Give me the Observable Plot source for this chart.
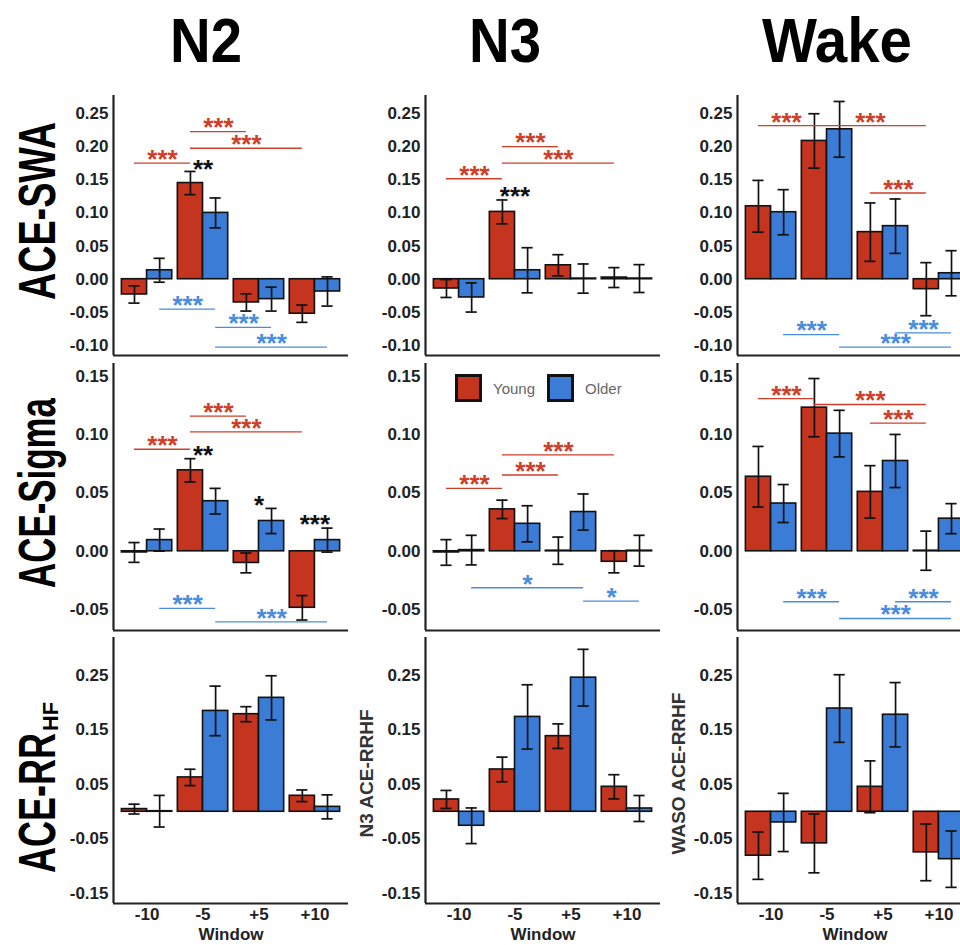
<!DOCTYPE html>
<html><head><meta charset="utf-8">
<script src="https://cdn.jsdelivr.net/npm/d3@7"></script>
<script src="https://cdn.jsdelivr.net/npm/@observablehq/plot@0.6"></script>
<style>
html,body{margin:0;padding:0;background:#fff;}
#wrap{position:relative;width:960px;height:945px;overflow:hidden;font-family:"Liberation Sans",Arial,sans-serif;background:#fff;}
.panel{position:absolute;}
#overlay{position:absolute;left:0;top:0;pointer-events:none;}
.legend{position:absolute;left:455px;top:374px;display:flex;align-items:center;font-family:"Liberation Sans",Arial,sans-serif;font-size:15px;color:#666;}
.legend .sw{width:27px;height:28px;box-sizing:border-box;border:3px solid #111;margin-right:11px;}
.legend .lab{margin-right:12px;}
</style></head><body><div id="wrap"></div>
<script>
// ---------- categories ----------
const windows = ["-10", "-5", "+5", "+10"];
const groups = ["Young", "Older"];
const stages = ["N2", "N3", "Wake"];
const rowLabels = ["ACE-SWA", "ACE-Sigma", "ACE-RR"];
const rrSubscript = "HF";
const rrAxisTitles = [null, "N3 ACE-RRHF", "WASO ACE-RRHF"];
const xTitle = "Window";

// ---------- tick labels ----------
const swaTicks = [-0.10, -0.05, 0.00, 0.05, 0.10, 0.15, 0.20, 0.25];
const sigmaTicks = [-0.05, 0.00, 0.05, 0.10, 0.15];
const rrTicks = [-0.15, -0.05, 0.05, 0.15, 0.25];

// ---------- ACE-SWA (mean, SE) ----------
const swaN2Young = [-0.023, 0.145, -0.035, -0.052];
const swaN2YoungSE = [0.013, 0.0175, 0.013, 0.013];
const swaN2Older = [0.0135, 0.100, -0.030, -0.0185];
const swaN2OlderSE = [0.018, 0.0225, 0.018, 0.022];

const swaN3Young = [-0.014, 0.1015, 0.021, 0.0025];
const swaN3YoungSE = [0.0135, 0.018, 0.016, 0.015];
const swaN3Older = [-0.0275, 0.0135, 0.001, 0.001];
const swaN3OlderSE = [0.022, 0.034, 0.022, 0.021];

const swaWakeYoung = [0.110, 0.2085, 0.071, -0.015];
const swaWakeYoungSE = [0.039, 0.041, 0.044, 0.040];
const swaWakeOlder = [0.101, 0.226, 0.080, 0.009];
const swaWakeOlderSE = [0.034, 0.042, 0.041, 0.034];

// ---------- ACE-Sigma (mean, SE) ----------
const sigmaN2Young = [-0.001, 0.0695, -0.010, -0.0485];
const sigmaN2YoungSE = [0.0085, 0.010, 0.0085, 0.0105];
const sigmaN2Older = [0.0096, 0.043, 0.026, 0.0096];
const sigmaN2OlderSE = [0.0095, 0.011, 0.0108, 0.0103];

const sigmaN3Young = [-0.001, 0.036, 0.0005, -0.009];
const sigmaN3YoungSE = [0.011, 0.0079, 0.0117, 0.0095];
const sigmaN3Older = [0.001, 0.0236, 0.0337, 0.0005];
const sigmaN3OlderSE = [0.0127, 0.0155, 0.0155, 0.0132];

const sigmaWakeYoung = [0.064, 0.1233, 0.051, 0.0005];
const sigmaWakeYoungSE = [0.026, 0.025, 0.0225, 0.0168];
const sigmaWakeOlder = [0.041, 0.101, 0.0775, 0.028];
const sigmaWakeOlderSE = [0.0163, 0.020, 0.0228, 0.0129];

// ---------- ACE-RR HF (mean, SE) ----------
const rrN2Young = [0.0049, 0.063, 0.179, 0.0293];
const rrN2YoungSE = [0.009, 0.015, 0.0138, 0.0107];
const rrN2Older = [0.001, 0.185, 0.209, 0.009];
const rrN2OlderSE = [0.029, 0.0455, 0.0405, 0.022];

const rrN3Young = [0.0226, 0.0776, 0.1387, 0.0458];
const rrN3YoungSE = [0.0165, 0.0226, 0.0225, 0.0222];
const rrN3Older = [-0.0257, 0.174, 0.246, 0.006];
const rrN3OlderSE = [0.0327, 0.059, 0.052, 0.0238];

const rrWakeYoung = [-0.0806, -0.058, 0.0458, -0.0745];
const rrWakeYoungSE = [0.0434, 0.054, 0.0475, 0.052];
const rrWakeOlder = [-0.0196, 0.1894, 0.178, -0.087];
const rrWakeOlderSE = [0.0534, 0.062, 0.059, 0.0517];

// ---------- significance brackets: [group, from window, to window, level, label] ----------
const swaN2Brackets = [
  ["Young", "-10", "-5", 0.175, "***"],
  ["Young", "-5", "+5", 0.2225, "***"],
  ["Young", "-5", "+10", 0.1975, "***"],
  ["Older", "-10", "-5", -0.045, "***"],
  ["Older", "-5", "+5", -0.0725, "***"],
  ["Older", "-5", "+10", -0.1025, "***"]
];
const swaN3Brackets = [
  ["Young", "-10", "-5", 0.1515, "***"],
  ["Young", "-5", "+5", 0.200, "***"],
  ["Young", "-5", "+10", 0.175, "***"]
];
const swaWakeBrackets = [
  ["Young", "-10", "-5", 0.2315, "***"],
  ["Young", "-5", "+10", 0.2315, "***"],
  ["Young", "+5", "+10", 0.130, "***"],
  ["Older", "-10", "-5", -0.0835, "***"],
  ["Older", "+5", "+10", -0.081, "***"],
  ["Older", "-5", "+10", -0.1025, "***"]
];
const sigmaN2Brackets = [
  ["Young", "-10", "-5", 0.0876, "***"],
  ["Young", "-5", "+5", 0.116, "***"],
  ["Young", "-5", "+10", 0.1025, "***"],
  ["Older", "-10", "-5", -0.049, "***"],
  ["Older", "-5", "+10", -0.0606, "***"]
];
const sigmaN3Brackets = [
  ["Young", "-10", "-5", 0.054, "***"],
  ["Young", "-5", "+5", 0.0655, "***"],
  ["Young", "-5", "+10", 0.0827, "***"],
  ["Older", "-10", "+5", -0.0313, "*"],
  ["Older", "+5", "+10", -0.0428, "*"]
];
const sigmaWakeBrackets = [
  ["Young", "-10", "-5", 0.131, "***"],
  ["Young", "-5", "+10", 0.126, "***"],
  ["Young", "+5", "+10", 0.110, "***"],
  ["Older", "-10", "-5", -0.0433, "***"],
  ["Older", "+5", "+10", -0.0433, "***"],
  ["Older", "-5", "+10", -0.0577, "***"]
];

// ---------- Young vs Older stars: [window, level, label] ----------
const swaN2Stars = [["-5", 0.175, "**"]];
const swaN3Stars = [["-5", 0.135, "***"]];
const sigmaN2Stars = [["-5", 0.088, "**"], ["+5", 0.0446, "*"], ["+10", 0.028, "***"]];

// ---------- styling ----------
const barColors = ["#C4341F", "#3A7CD6"];
const lineColors = {Young: "#CF3F28", Older: "#4A8CDD"};
const dodge = 0.225;   // half of a bar, in window units
const capHalf = 0.1;
const xDomain = [0.4, 4.6];
const colX = [113, 425, 737];
const rowCfg = [
  {top: 90, plotH: 260, mb: 5, domain: [-0.115, 0.277], ticks: swaTicks},
  {top: 358, plotH: 267, mb: 5, domain: [-0.068, 0.1612], ticks: sigmaTicks},
  {top: 632, plotH: 266, mb: 42, domain: [-0.1683, 0.3197], ticks: rrTicks}
];
const ML = 75, MR = 5, MT = 5, PW = 235;

const wrap = document.getElementById("wrap");
const idx = w => windows.indexOf(w) + 1;
const gx = g => (g === "Young" ? -dodge : dodge);

function makePanel(r, c, young, youngSE, older, olderSE, brackets, stars) {
  const rc = rowCfg[r];
  const data = [];
  windows.forEach((w, k) => {
    data.push({w, k: k + 1, g: "Young", m: young[k], se: youngSE[k]});
    data.push({w, k: k + 1, g: "Older", m: older[k], se: olderSE[k]});
  });
  const cx = d => d.k + gx(d.g);
  const br = (brackets || []).map(([g, a, b, y, label]) => ({g, x1: idx(a) + gx(g), x2: idx(b) + gx(g), y, label}));
  const st = (stars || []).map(([w, y, label]) => ({x: idx(w), y, label}));
  const marks = [
    Plot.rect(data, {x1: d => d.k + (d.g === "Young" ? -2 * dodge : 0), x2: d => d.k + (d.g === "Young" ? 0 : 2 * dodge), y1: 0, y2: "m", fill: "g", stroke: "#111", strokeWidth: 1.6}),
    Plot.ruleX(data, {x: cx, y1: d => d.m - d.se, y2: d => d.m + d.se, stroke: "#111", strokeWidth: 1.7}),
    Plot.ruleY(data, {y: d => d.m + d.se, x1: d => cx(d) - capHalf, x2: d => cx(d) + capHalf, stroke: "#111", strokeWidth: 1.7}),
    Plot.ruleY(data, {y: d => d.m - d.se, x1: d => cx(d) - capHalf, x2: d => cx(d) + capHalf, stroke: "#111", strokeWidth: 1.7}),
    Plot.ruleY(br, {y: "y", x1: "x1", x2: "x2", stroke: d => lineColors[d.g], strokeWidth: 1.3}),
    Plot.text(br, {x: d => (d.x1 + d.x2) / 2, y: "y", text: "label", fill: d => lineColors[d.g], fontSize: 26, fontWeight: "bold", dy: -3.5}),
    Plot.text(st, {x: "x", y: "y", text: "label", fill: "#111", fontSize: 26, fontWeight: "bold", dy: 6.5}),
    Plot.axisY({ticks: rc.ticks, tickSize: 0, tickPadding: 5, tickFormat: d => d.toFixed(2), label: null, fontSize: 17, fontWeight: "bold", fill: "#222"}),
    Plot.ruleX([xDomain[0]], {stroke: "#222", strokeWidth: 2.2}),
    Plot.ruleY([rc.domain[0]], {stroke: "#222", strokeWidth: 2.2})
  ];
  if (r === 2) {
    marks.push(Plot.axisX({ticks: windows.map((w, k) => k + 1), tickFormat: k => windows[k - 1], tickSize: 0, tickPadding: 4, label: null, fontSize: 17, fontWeight: "bold", fill: "#222"}));
    marks.push(Plot.text([xTitle], {frameAnchor: "bottom", lineAnchor: "top", dy: 24, fontSize: 17, fontWeight: "bold", fill: "#222"}));
    if (rrAxisTitles[c]) {
      marks.push(Plot.text([rrAxisTitles[c]], {frameAnchor: "left", textAnchor: "middle", rotate: -90, dx: -59, dy: 3, fontSize: 19, fontWeight: "bold", fill: "#333"}));
    }
  }
  const chart = Plot.plot({
    width: ML + PW + MR,
    height: MT + rc.plotH + rc.mb,
    marginLeft: ML, marginRight: MR, marginTop: MT, marginBottom: rc.mb,
    x: {domain: xDomain, axis: null},
    y: {domain: rc.domain, axis: null},
    color: {domain: groups, range: barColors},
    style: {background: "transparent", fontFamily: '"Liberation Sans", Arial, sans-serif', fontSize: "17px", fontWeight: "bold", color: "#222", overflow: "visible", maxWidth: "none"},
    marks
  });
  const div = document.createElement("div");
  div.className = "panel";
  div.style.left = (colX[c] - ML) + "px";
  div.style.top = rc.top + "px";
  div.style.width = (ML + PW + MR) + "px";
  div.appendChild(chart);
  wrap.appendChild(div);
}

makePanel(0, 0, swaN2Young, swaN2YoungSE, swaN2Older, swaN2OlderSE, swaN2Brackets, swaN2Stars);
makePanel(0, 1, swaN3Young, swaN3YoungSE, swaN3Older, swaN3OlderSE, swaN3Brackets, swaN3Stars);
makePanel(0, 2, swaWakeYoung, swaWakeYoungSE, swaWakeOlder, swaWakeOlderSE, swaWakeBrackets, null);
makePanel(1, 0, sigmaN2Young, sigmaN2YoungSE, sigmaN2Older, sigmaN2OlderSE, sigmaN2Brackets, sigmaN2Stars);
makePanel(1, 1, sigmaN3Young, sigmaN3YoungSE, sigmaN3Older, sigmaN3OlderSE, sigmaN3Brackets, null);
makePanel(1, 2, sigmaWakeYoung, sigmaWakeYoungSE, sigmaWakeOlder, sigmaWakeOlderSE, sigmaWakeBrackets, null);
makePanel(2, 0, rrN2Young, rrN2YoungSE, rrN2Older, rrN2OlderSE, null, null);
makePanel(2, 1, rrN3Young, rrN3YoungSE, rrN3Older, rrN3OlderSE, null, null);
makePanel(2, 2, rrWakeYoung, rrWakeYoungSE, rrWakeOlder, rrWakeOlderSE, null, null);

// ---------- legend (inside N3 / ACE-Sigma panel) ----------
const legend = document.createElement("div");
legend.className = "legend";
groups.forEach((g, i) => {
  const sw = document.createElement("div");
  sw.className = "sw";
  sw.style.background = barColors[i];
  const lab = document.createElement("span");
  lab.className = "lab";
  lab.textContent = g;
  legend.appendChild(sw);
  legend.appendChild(lab);
});
wrap.appendChild(legend);

// ---------- column titles and row labels ----------
const svg = d3.select(wrap).append("svg").attr("id", "overlay").attr("width", 960).attr("height", 945);
const titleX = [206, 505, 837];
const titleLen = [72, 72, 150];
stages.forEach((s, i) => {
  svg.append("text").text(s)
    .attr("x", titleX[i]).attr("y", 62)
    .attr("text-anchor", "middle")
    .attr("font-family", '"Liberation Sans", Arial, sans-serif')
    .attr("font-weight", "bold").attr("font-size", 63)
    .attr("textLength", titleLen[i]).attr("lengthAdjust", "spacingAndGlyphs")
    .attr("fill", "#000");
});
const rowY = [211, 493];
const rowLen = [178, 190];
[0, 1].forEach(i => {
  svg.append("text").text(rowLabels[i])
    .attr("transform", `translate(55,${rowY[i]}) rotate(-90)`)
    .attr("text-anchor", "middle")
    .attr("font-family", '"Liberation Sans", Arial, sans-serif')
    .attr("font-weight", "bold").attr("font-size", 52)
    .attr("textLength", rowLen[i]).attr("lengthAdjust", "spacingAndGlyphs")
    .attr("fill", "#000");
});
svg.append("text").text(rowLabels[2])
  .attr("transform", "translate(55,873) rotate(-90)")
  .attr("text-anchor", "start")
  .attr("font-family", '"Liberation Sans", Arial, sans-serif')
  .attr("font-weight", "bold").attr("font-size", 52)
  .attr("textLength", 140).attr("lengthAdjust", "spacingAndGlyphs")
  .attr("fill", "#000");
svg.append("text").text(rrSubscript)
  .attr("transform", "translate(58,731) rotate(-90)")
  .attr("text-anchor", "start")
  .attr("font-family", '"Liberation Sans", Arial, sans-serif')
  .attr("font-weight", "bold").attr("font-size", 22)
  .attr("textLength", 29).attr("lengthAdjust", "spacingAndGlyphs")
  .attr("fill", "#000");
</script>
</body></html>
